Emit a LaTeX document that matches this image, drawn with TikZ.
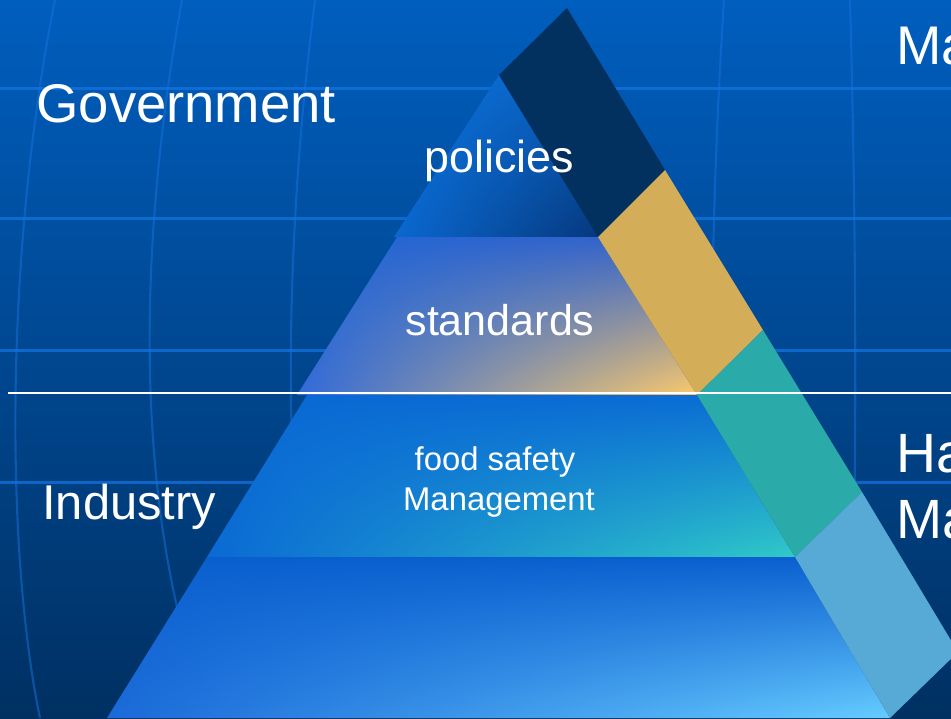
\documentclass[tikz,border=0pt]{standalone}
\usepackage{fontspec}
\setmainfont{Liberation Sans}
\usetikzlibrary{shadings}
\begin{document}
\begin{tikzpicture}[x=0.02cm,y=-0.02cm,
  gridh/.style={line width=1.7pt, color=gridblue, opacity=0.75},
  gridv/.style={line width=1.2pt, color=gridblue, opacity=0.5},
  lbl/.style={text=white, inner sep=0pt},
  fs/.style={font=\fontsize{#1}{#1}\selectfont}]
\definecolor{bgtop}{RGB}{0,94,190}
\definecolor{bgbot}{RGB}{0,48,98}
\definecolor{gridblue}{RGB}{20,115,225}
\definecolor{navyband}{RGB}{2,48,95}
\definecolor{goldband}{RGB}{212,173,89}
\definecolor{tealband}{RGB}{42,170,169}
\definecolor{skyband}{RGB}{88,170,214}
% tier colours
\definecolor{pUL}{RGB}{10,116,222}
\definecolor{pUR}{RGB}{10,96,192}
\definecolor{pLL}{RGB}{10,104,208}
\definecolor{pLR}{RGB}{5,56,124}
\definecolor{sUL}{RGB}{31,102,214}
\definecolor{sUR}{RGB}{56,98,200}
\definecolor{sLL}{RGB}{50,106,216}
\definecolor{sLR}{RGB}{252,202,106}
\definecolor{fUL}{RGB}{10,104,212}
\definecolor{fUR}{RGB}{10,108,212}
\definecolor{fLL}{RGB}{10,106,212}
\definecolor{fLR}{RGB}{48,202,200}
\definecolor{bUL}{RGB}{10,95,207}
\definecolor{bUR}{RGB}{10,95,207}
\definecolor{bLL}{RGB}{26,106,216}
\definecolor{bLR}{RGB}{102,204,255}

\useasboundingbox (0,0) rectangle (951,718);
\clip (0,0) rectangle (951,718);

% backdrop
\shade[top color=bgtop, bottom color=bgbot] (0,0) rectangle (951,718);

% globe grid: parallels
\foreach \yy in {88,218,350,482}
  \draw[gridh] (0,\yy) -- (951,\yy);
% globe grid: meridians
\draw[gridv] (55,0) .. controls (5,250) and (5,550) .. (40,718);
\draw[gridv] (182,0) .. controls (135,260) and (135,520) .. (210,718);
\draw[gridv] (315,0) .. controls (282,260) and (282,520) .. (320,718);
\draw[gridv] (724,0) .. controls (708,250) and (708,500) .. (722,718);
\draw[gridv] (850,0) .. controls (857,250) and (857,500) .. (850,718);

% pyramid tiers
\shade[upper left=pUL, upper right=pUR, lower left=pLL, lower right=pLR]
  (499,75) -- (598,237) -- (394,237) -- cycle;
\shade[upper left=sUL, upper right=sUR, lower left=sLL, lower right=sLR]
  (397,237) -- (598,237) -- (697,395) -- (297,395) -- cycle;
\shade[upper left=fUL, upper right=fUR, lower left=fLL, lower right=fLR]
  (307,395) -- (697,395) -- (795,557) -- (207,557) -- cycle;
\shade[upper left=bUL, upper right=bUR, lower left=bLL, lower right=bLR]
  (207,557) -- (795,557) -- (890,718) -- (107,718) -- cycle;

% side band
\fill[navyband] (499,75) -- (567,8) -- (665,170) -- (598,237) -- cycle;
\fill[goldband] (598,237) -- (665,170) -- (763,330) -- (697,395) -- cycle;
\fill[tealband] (697,395) -- (763,330) -- (862,492) -- (795,557) -- cycle;
\fill[skyband] (795,557) -- (862,492) -- (958,652) -- (890,718) -- cycle;

% divider
\draw[white, line width=1.1pt] (8,393) -- (951,393);

% labels
\node[lbl, fs=31pt, anchor=base west] (gov) at (36,122) {Government};
\node[lbl, fs=27.8pt, anchor=base west] (ind) at (42,519) {Industry};
\node[lbl, fs=25.5pt, anchor=base] (pol) at (499,172) {policies};
\node[lbl, fs=24.5pt, anchor=base] (std) at (500,335) {standards};
\node[lbl, fs=18.7pt, anchor=base] (food) at (495,470) {food safety};
\node[lbl, fs=18.7pt, anchor=base] (mgmt) at (499,510) {Management};
\node[lbl, fs=31pt, anchor=base west] (mtop) at (896,64) {Ma};
\node[lbl, fs=31.5pt, anchor=base west] (ha) at (896,472) {Ha};
\node[lbl, fs=31.5pt, anchor=base west] (mbot) at (896,538) {Ma};
\end{tikzpicture}
\end{document}
